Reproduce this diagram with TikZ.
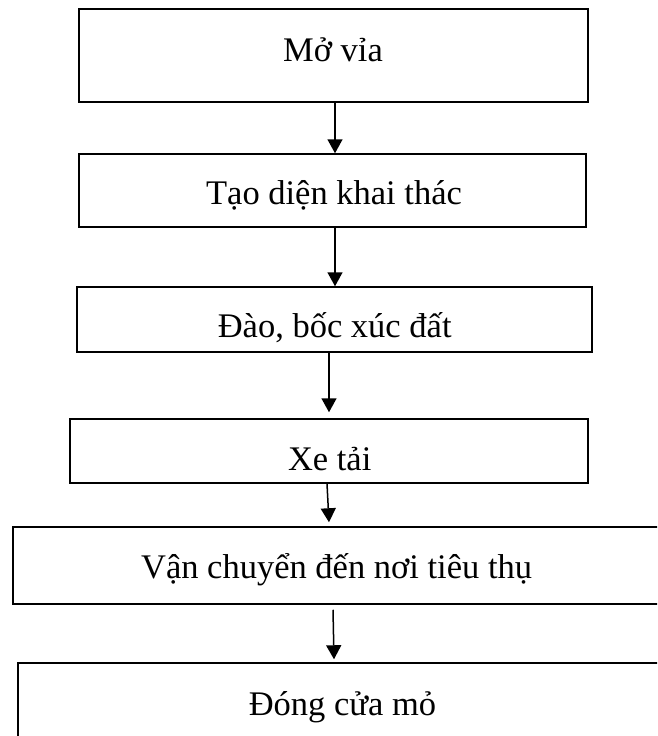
\documentclass[tikz,border=0pt]{standalone}
\usepackage{fontspec}
\setmainfont{Liberation Serif}
\usetikzlibrary{arrows.meta}
\begin{document}
\begin{tikzpicture}[x=1pt,y=1pt,
  box/.style={draw, line width=1.5pt, rectangle, inner sep=0pt},
  lbl/.style={anchor=base, inner sep=0pt, font=\fontsize{34.5}{40}\selectfont},
  arr/.style={line width=1.5pt, -{Triangle[length=14pt,width=15pt]}}]
\useasboundingbox (0,0) rectangle (657,-736);
\clip (0,0) rectangle (657,-736);
\node[box, minimum width=509, minimum height=93] (b1) at (333.5,-55.5) {};
\node[box, minimum width=507, minimum height=73] (b2) at (332.5,-190.5) {};
\node[box, minimum width=515, minimum height=65] (b3) at (334.5,-319.5) {};
\node[box, minimum width=518, minimum height=64] (b4) at (329,-451) {};
\node[box, minimum width=667, minimum height=77] (b5) at (346.3,-565.5) {};
\node[box, minimum width=662, minimum height=97] (b6) at (349,-711.5) {};
\node[lbl] (t1) at (333,-61) {Mở vỉa};
\node[lbl] (t2) at (334,-204) {Tạo diện khai thác};
\node[lbl] (t3) at (334.7,-337) {Đào, bốc xúc đất};
\node[lbl] (t4) at (329.7,-470) {Xe tải};
\node[lbl] (t5) at (336.6,-578) {Vận chuyển đến nơi tiêu thụ};
\node[lbl] (t6) at (342.5,-715) {Đóng cửa mỏ};
\draw[arr] ([xshift=1.5]b1.south) -- ([xshift=2.5]b2.north);
\draw[arr] ([xshift=2.5]b2.south) -- ([xshift=0.5]b3.north);
\draw[arr] ([xshift=-5.5]b3.south) -- ([yshift=6]b4.north);
\draw[arr] ([xshift=-2]b4.south) -- ([xshift=-17.3,yshift=4]b5.north);
\draw[arr] ([xshift=-13.3,yshift=-5]b5.south) -- ([xshift=-15,yshift=3]b6.north);
\end{tikzpicture}
\end{document}
